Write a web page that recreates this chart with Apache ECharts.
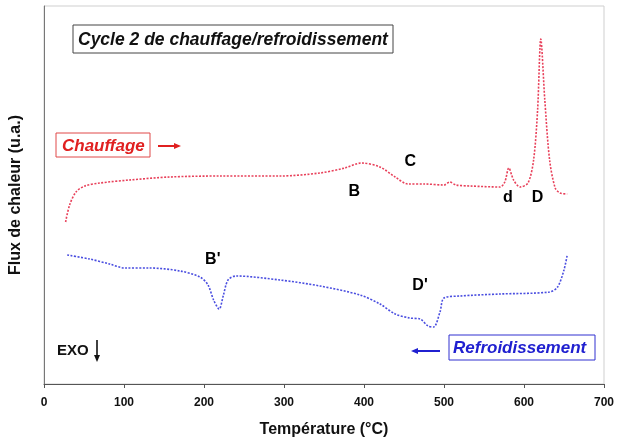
<!DOCTYPE html>
<html>
<head>
<meta charset="utf-8">
<script src="https://cdn.jsdelivr.net/npm/echarts@6/dist/echarts.min.js"></script>
<style>
  html, body { margin: 0; padding: 0; background: #fff; }
  #chart { width: 630px; height: 443px; }
</style>
</head>
<body>
<div id="chart"></div>
<script>
  // axe des températures
  var xTicks = [0, 100, 200, 300, 400, 500, 600, 700];

  // chauffage : [T (°C), flux (u.a.)]
  var chauffage = [
    [27, 162], [32, 179], [40, 192], [51, 198], [70, 201], [107, 204], [157, 207],
    [220, 208], [295, 208], [345, 211], [376, 216], [397, 221], [420, 217],
    [439, 207], [455, 200], [476, 200], [500, 199], [507, 202], [515, 199],
    [533, 198], [570, 197], [576, 202], [581, 216], [587, 204], [595, 197],
    [605, 201], [612, 224], [617, 274], [621, 345], [626, 284], [632, 224],
    [639, 196], [645, 191], [654, 190]
  ];

  // refroidissement : [T (°C), flux (u.a.)]
  var refroidissement = [
    [29, 129], [57, 125], [82, 120], [101, 116], [132, 116], [170, 113],
    [195, 107], [205, 99], [212, 84], [219, 75], [224, 88], [230, 104],
    [240, 108], [295, 104], [345, 98], [395, 89], [420, 80], [439, 70],
    [457, 66], [470, 65], [480, 58], [487, 57], [495, 72], [500, 86],
    [520, 88], [570, 90], [632, 92], [642, 97], [650, 114], [654, 129]
  ];

  // étiquettes des pics
  var annotations = [
    { name: 'B', value: [388, 192] },
    { name: 'C', value: [458, 222] },
    { name: 'd', value: [580, 186] },
    { name: 'D', value: [617, 186] },
    { name: "B'", value: [211, 124] },
    { name: "D'", value: [470, 98] }
  ];

  var chart = echarts.init(document.getElementById('chart'));
  var bold = { fontFamily: 'Liberation Sans', fontWeight: 'bold' };

  chart.setOption({
    animation: false,
    grid: {
      left: 44, right: 26, top: 6, bottom: 59,
      show: true,
      borderColor: '#cfcfcf',
      borderWidth: 1
    },
    xAxis: {
      type: 'value',
      min: 0, max: 700, interval: 100,
      name: 'Température (°C)',
      nameLocation: 'middle',
      nameGap: 38,
      nameTextStyle: Object.assign({ fontSize: 16, color: '#111' }, bold),
      axisLine: { lineStyle: { color: '#555', width: 1 } },
      axisTick: { show: true, length: 4, lineStyle: { color: '#555' } },
      axisLabel: Object.assign({ fontSize: 12, color: '#111', margin: 13 }, bold),
      splitLine: { show: false }
    },
    yAxis: {
      type: 'value',
      min: 0, max: 378,
      name: 'Flux de chaleur (u.a.)',
      nameLocation: 'middle',
      nameGap: 20,
      nameTextStyle: Object.assign({ fontSize: 16, color: '#111' }, bold),
      axisLine: { show: true, lineStyle: { color: '#777', width: 1 } },
      axisTick: { show: false },
      axisLabel: { show: false },
      splitLine: { show: false }
    },
    series: [
      {
        name: 'Chauffage',
        type: 'line',
        data: chauffage,
        smooth: 0.3,
        showSymbol: false,
        lineStyle: { color: '#e8405a', width: 1.6, type: [2, 1.5] }
      },
      {
        name: 'Refroidissement',
        type: 'line',
        data: refroidissement,
        smooth: 0.3,
        showSymbol: false,
        lineStyle: { color: '#4a4ee0', width: 1.6, type: [2, 1.5] }
      },
      {
        type: 'scatter',
        data: annotations,
        symbolSize: 0,
        itemStyle: { opacity: 1 },
        label: Object.assign({
          show: true,
          position: 'inside',
          formatter: '{b}',
          fontSize: 16,
          color: '#000'
        }, bold)
      }
    ],
    graphic: [
      {
        type: 'rect', shape: { x: 73, y: 25, width: 320, height: 28 },
        style: { fill: '#fff', stroke: '#444', lineWidth: 1 }
      },
      {
        type: 'text', x: 78, y: 40,
        style: Object.assign({ text: 'Cycle 2 de chauffage/refroidissement', fontSize: 17.5,
          fontStyle: 'italic', fill: '#111', verticalAlign: 'middle' }, bold)
      },
      {
        type: 'rect', shape: { x: 56, y: 133, width: 94, height: 24 },
        style: { fill: '#fff', stroke: '#e04848', lineWidth: 1 }
      },
      {
        type: 'text', x: 62, y: 146,
        style: Object.assign({ text: 'Chauffage', fontSize: 17,
          fontStyle: 'italic', fill: '#e02020', verticalAlign: 'middle' }, bold)
      },
      {
        type: 'line', shape: { x1: 158, y1: 146, x2: 175, y2: 146 },
        style: { stroke: '#e02020', lineWidth: 2 }
      },
      {
        type: 'polygon', shape: { points: [[181, 146], [174, 143], [174, 149]] },
        style: { fill: '#e02020' }
      },
      {
        type: 'rect', shape: { x: 449, y: 335, width: 146, height: 25 },
        style: { fill: '#fff', stroke: '#3030d0', lineWidth: 1 }
      },
      {
        type: 'text', x: 453, y: 348,
        style: Object.assign({ text: 'Refroidissement', fontSize: 17,
          fontStyle: 'italic', fill: '#2020d0', verticalAlign: 'middle' }, bold)
      },
      {
        type: 'line', shape: { x1: 418, y1: 351, x2: 440, y2: 351 },
        style: { stroke: '#2020d0', lineWidth: 2 }
      },
      {
        type: 'polygon', shape: { points: [[411, 351], [418, 348], [418, 354]] },
        style: { fill: '#2020d0' }
      },
      {
        type: 'text', x: 57, y: 351,
        style: Object.assign({ text: 'EXO', fontSize: 15, fill: '#111', verticalAlign: 'middle' }, bold)
      },
      {
        type: 'line', shape: { x1: 97, y1: 340, x2: 97, y2: 356 },
        style: { stroke: '#111', lineWidth: 1.6 }
      },
      {
        type: 'polygon', shape: { points: [[97, 362], [94, 355], [100, 355]] },
        style: { fill: '#111' }
      }
    ]
  });

  window.onresize = function () {
    chart.resize();
  };
</script>
</body>
</html>
